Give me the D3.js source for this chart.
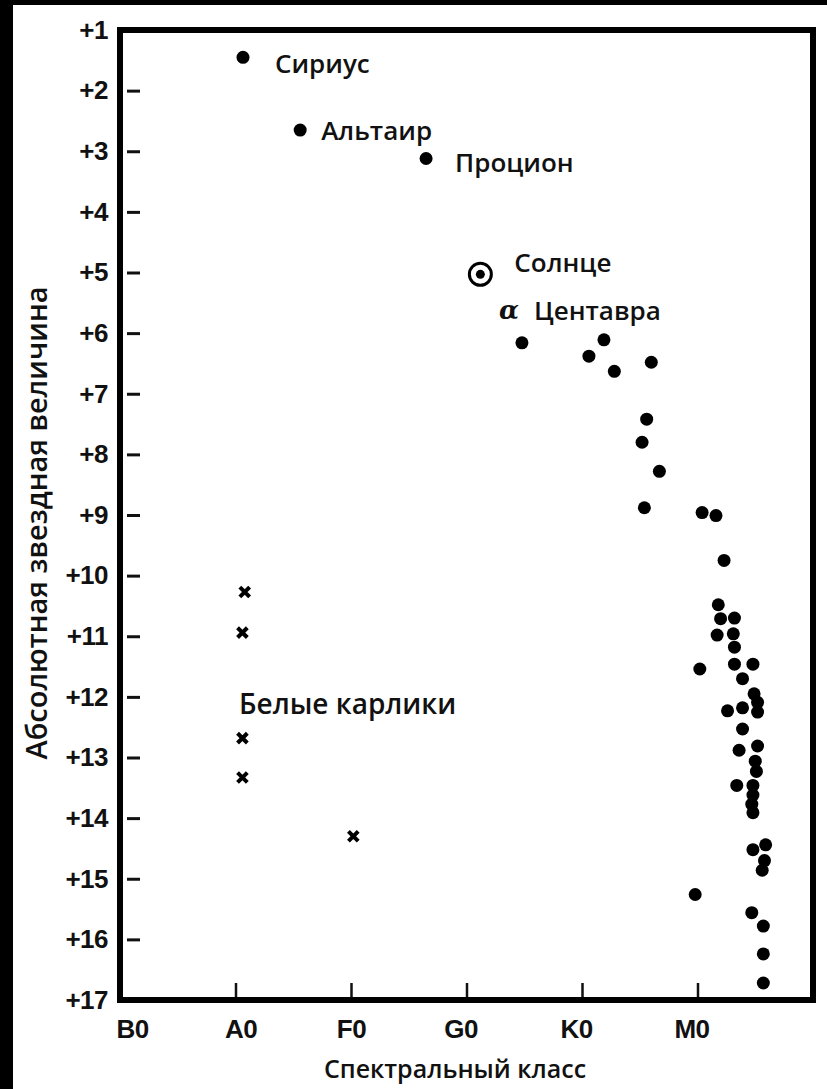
<!DOCTYPE html>
<html>
<head>
<meta charset="utf-8">
<script src="https://cdn.jsdelivr.net/npm/d3@7"></script>
<style>
  html, body { margin: 0; padding: 0; background: #fff; }
  svg { display: block; font-family: "Open Sans", sans-serif; }
</style>
</head>
<body>
<svg id="chart"></svg>
<script>
const width = 827;
const height = 1089;

// spectral classes along the bottom (0 = B0 ... 5 = M0)
const classLabels = ["B0", "A0", "F0", "G0", "K0", "M0"];
const magTicks = d3.range(1, 18);

// named stars: [class, magnitude]
const namedStars = ["Сириус", "Альтаир", "Процион"];
const namedX = [1.065, 1.56, 2.65];
const namedY = [1.45, 2.65, 3.12];
const sunPos = [3.12, 5.03];
const alphaCenPos = [3.48, 6.16];

// main sequence
const msX = [3.48, 4.06, 4.19, 4.28, 4.60, 4.56, 4.52, 4.67, 4.54, 5.04, 5.16, 5.23,
  5.18, 5.20, 5.32, 5.17, 5.31, 5.32, 5.32, 5.48, 5.02, 5.39, 5.49, 5.52, 5.52, 5.26,
  5.39, 5.39, 5.36, 5.52, 5.50, 5.51, 5.34, 5.48, 5.48, 5.47, 5.48, 5.48, 5.59, 5.58,
  5.56, 4.98, 5.47, 5.57, 5.57, 5.57];
const msY = [6.16, 6.38, 6.11, 6.63, 6.48, 7.42, 7.80, 8.28, 8.88, 8.96, 9.01, 9.75,
  10.48, 10.71, 10.70, 10.98, 10.96, 11.18, 11.46, 11.46, 11.54, 11.70, 11.95, 12.09, 12.25, 12.23,
  12.18, 12.53, 12.88, 12.81, 13.06, 13.23, 13.46, 13.46, 13.62, 13.77, 13.91, 14.52, 14.44, 14.70,
  14.86, 15.26, 15.56, 15.78, 16.24, 16.72];

// white dwarfs
const wdX = [1.08, 1.06, 1.06, 1.06, 2.02];
const wdY = [10.27, 10.94, 12.68, 13.33, 14.30];

const margin = { top: 30, left: 120, right: 14, bottom: 89 };
const svg = d3.select("#chart").attr("width", width).attr("height", height);

// scan border
svg.append("rect").attr("x", 0).attr("y", 0).attr("width", width).attr("height", 5).attr("fill", "#000");
svg.append("rect").attr("x", 0).attr("y", 0).attr("width", 13).attr("height", height).attr("fill", "#000");

const x = d3.scaleLinear().domain([0, 6]).range([margin.left, width - margin.right]);
const y = d3.scaleLinear().domain([1, 17]).range([margin.top, height - margin.bottom]);

// y axis (ticks point inwards)
const yAxis = d3.axisLeft(y)
  .tickValues(magTicks)
  .tickFormat((d) => "+" + d)
  .tickSize(-20)
  .tickPadding(12);
const gy = svg.append("g").attr("transform", "translate(" + margin.left + ",0)").call(yAxis);
gy.select(".domain").remove();
gy.selectAll(".tick line").attr("stroke", "#111").attr("stroke-width", 3)
  .attr("x1", 7)
  .style("display", (d) => (d === 1 || d === 17 ? "none" : null));
gy.selectAll(".tick text").attr("fill", "#111")
  .style("font-size", "26px").style("font-weight", 700).style("letter-spacing", "-0.5px");

// x axis
const xAxis = d3.axisBottom(x)
  .tickValues(d3.range(classLabels.length))
  .tickFormat((d) => classLabels[d])
  .tickSize(-17)
  .tickPadding(20);
const gx = svg.append("g").attr("transform", "translate(0," + y(17) + ")").call(xAxis);
gx.select(".domain").remove();
gx.selectAll(".tick line").attr("stroke", "#111").attr("stroke-width", 2.5)
  .style("display", (d) => (d === 0 ? "none" : null));
gx.selectAll(".tick text").attr("fill", "#111")
  .style("font-size", "26px").style("font-weight", 700).style("letter-spacing", "-0.5px")
  .attr("dx", (d) => (d === 0 ? 12 : d === 1 ? 5 : d >= 3 ? -6 : 0));

// frame
svg.append("rect")
  .attr("x", x(0)).attr("y", y(1))
  .attr("width", x(6) - x(0)).attr("height", y(17) - y(1))
  .attr("fill", "none").attr("stroke", "#000").attr("stroke-width", 6);

// axis titles
svg.append("text")
  .attr("x", 455).attr("y", 1078)
  .attr("text-anchor", "middle")
  .style("font-size", "25px").style("font-weight", 600).attr("fill", "#111")
  .text("Спектральный класс");
svg.append("text")
  .attr("transform", "translate(47,523) rotate(-90)")
  .attr("text-anchor", "middle")
  .style("font-size", "29px").style("font-weight", 600).attr("fill", "#111")
  .text("Абсолютная звездная величина");

// main sequence dots
svg.append("g").selectAll("circle")
  .data(msX.map((v, i) => [v, msY[i]]))
  .enter().append("circle")
  .attr("cx", (d) => x(d[0]))
  .attr("cy", (d) => y(d[1]))
  .attr("r", 6.5)
  .attr("fill", "#000");

// named stars
const labelDx = [32, 21, 29];
const labelDy = [6, 0, 3];
const named = svg.append("g").selectAll("g")
  .data(namedStars)
  .enter().append("g");
named.append("circle")
  .attr("cx", (d, i) => x(namedX[i]))
  .attr("cy", (d, i) => y(namedY[i]))
  .attr("r", 6.5).attr("fill", "#000");
named.append("text")
  .attr("x", (d, i) => x(namedX[i]) + labelDx[i])
  .attr("y", (d, i) => y(namedY[i]) + labelDy[i])
  .attr("dominant-baseline", "central")
  .style("font-size", "26px").style("font-weight", 600).attr("fill", "#111")
  .text((d) => d);

// Sun
svg.append("circle").attr("cx", x(sunPos[0])).attr("cy", y(sunPos[1]))
  .attr("r", 11).attr("fill", "none").attr("stroke", "#000").attr("stroke-width", 3);
svg.append("circle").attr("cx", x(sunPos[0])).attr("cy", y(sunPos[1]))
  .attr("r", 4.5).attr("fill", "#000");
svg.append("text")
  .attr("x", x(sunPos[0]) + 34).attr("y", y(sunPos[1]) - 12)
  .attr("dominant-baseline", "central")
  .style("font-size", "26px").style("font-weight", 600).attr("fill", "#111")
  .text("Солнце");

// alpha Centauri label
svg.append("text")
  .attr("x", x(alphaCenPos[0]) - 23).attr("y", y(alphaCenPos[1]) - 33)
  .attr("dominant-baseline", "central")
  .style("font-family", "DejaVu Serif").style("font-style", "italic")
  .style("font-size", "26px").style("font-weight", 700).attr("fill", "#111")
  .text("α");
svg.append("text")
  .attr("x", x(alphaCenPos[0]) + 12).attr("y", y(alphaCenPos[1]) - 33)
  .attr("dominant-baseline", "central")
  .style("font-size", "26px").style("font-weight", 600).attr("fill", "#111")
  .text("Центавра");

// white dwarfs
svg.append("g").selectAll("path")
  .data(wdX.map((v, i) => [v, wdY[i]]))
  .enter().append("path")
  .attr("transform", (d) => "translate(" + x(d[0]) + "," + y(d[1]) + ")")
  .attr("d", d3.symbol(d3.symbolTimes, 64))
  .attr("fill", "none").attr("stroke", "#000").attr("stroke-width", 4);

svg.append("text")
  .attr("x", 239).attr("y", y(12.1))
  .attr("dominant-baseline", "central")
  .style("font-size", "28px").style("font-weight", 600).attr("fill", "#111")
  .text("Белые карлики");
</script>
</body>
</html>
